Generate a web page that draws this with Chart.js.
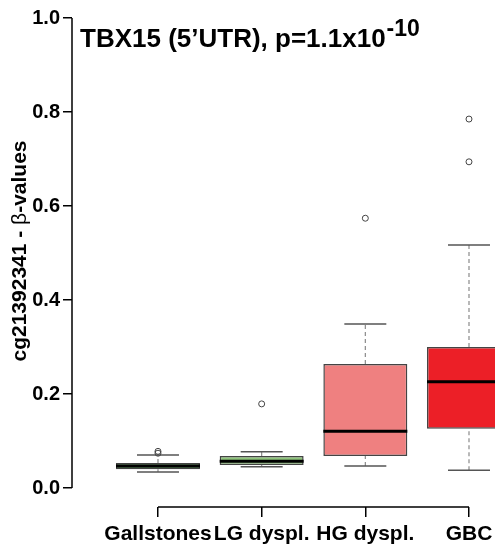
<!DOCTYPE html>
<html>
<head>
<meta charset="utf-8">
<script src="https://cdn.jsdelivr.net/npm/chart.js@4/dist/chart.umd.min.js"></script>
<style>
  html, body { margin: 0; padding: 0; background: #fff; }
  canvas { display: block; }
</style>
</head>
<body>
<canvas id="boxChart" width="495" height="545"></canvas>
<script>
// groups and box statistics (beta values)
const categories = ['Gallstones', 'LG dyspl.', 'HG dyspl.', 'GBC'];
const whiskerLow = [0.034, 0.045, 0.047, 0.038];
const q1 = [0.040, 0.049, 0.068, 0.126];
const medians = [0.047, 0.057, 0.121, 0.226];
const q3 = [0.053, 0.068, 0.264, 0.300];
const whiskerHigh = [0.070, 0.077, 0.349, 0.517];
const outliers = [[0.074, 0.078], [0.179], [0.574], [0.694, 0.785]];
const boxColors = ['#3f7f3c', '#8fc47c', '#ef8080', '#ec1f27'];
const yTicks = [0, 0.2, 0.4, 0.6, 0.8, 1.0];

const titleMain = 'TBX15 (5\u2019UTR), p=1.1x10';
const titleExp = '-10';
const yTitleParts = [['cg21392341 - ', 'bold'], ['\u03b2', 'normal'], ['-values', 'bold']];

const FONT = '"Liberation Sans", Arial, Helvetica, sans-serif';

const boxData = categories.map((c, i) => ({ x: i + 1, y: [q1[i], q3[i]] }));
const outlierData = [];
outliers.forEach((list, i) => list.forEach(v => outlierData.push({ x: i + 1, y: v })));

// whiskers, medians, axis lines and titles
const boxExtras = {
  id: 'boxExtras',
  beforeDatasetsDraw(chart) {
    const ctx = chart.ctx;
    const x = chart.scales.x, y = chart.scales.y;
    const bars = chart.getDatasetMeta(0).data;
    ctx.save();
    categories.forEach((c, i) => {
      const cx = x.getPixelForValue(i + 1);
      const half = bars[i].width / 4;
      ctx.strokeStyle = '#8a8a8a';
      ctx.lineWidth = 1.2;
      ctx.setLineDash([4, 3]);
      ctx.beginPath();
      ctx.moveTo(cx, y.getPixelForValue(whiskerLow[i]));
      ctx.lineTo(cx, y.getPixelForValue(q1[i]));
      ctx.moveTo(cx, y.getPixelForValue(q3[i]));
      ctx.lineTo(cx, y.getPixelForValue(whiskerHigh[i]));
      ctx.stroke();
      ctx.setLineDash([]);
      ctx.strokeStyle = '#555';
      ctx.lineWidth = 1.5;
      ctx.beginPath();
      [whiskerLow[i], whiskerHigh[i]].forEach(v => {
        const py = y.getPixelForValue(v);
        ctx.moveTo(cx - half, py);
        ctx.lineTo(cx + half, py);
      });
      ctx.stroke();
    });
    ctx.restore();
  },
  afterDatasetsDraw(chart) {
    const ctx = chart.ctx;
    const x = chart.scales.x, y = chart.scales.y;
    const bars = chart.getDatasetMeta(0).data;
    const area = chart.chartArea;
    ctx.save();
    ctx.beginPath();
    ctx.rect(area.left, 0, area.right - area.left, chart.height);
    ctx.clip();
    ctx.strokeStyle = '#000';
    ctx.lineWidth = 3;
    ctx.beginPath();
    bars.forEach((bar, i) => {
      const py = y.getPixelForValue(medians[i]);
      ctx.moveTo(bar.x - bar.width / 2, py);
      ctx.lineTo(bar.x + bar.width / 2, py);
    });
    ctx.stroke();
    ctx.restore();

    ctx.save();
    // axis lines (R style: only across the tick range)
    ctx.strokeStyle = '#000';
    ctx.lineWidth = 1.5;
    ctx.beginPath();
    ctx.moveTo(area.left, y.getPixelForValue(yTicks[0]));
    ctx.lineTo(area.left, y.getPixelForValue(yTicks[yTicks.length - 1]));
    ctx.moveTo(x.getPixelForValue(1), area.bottom);
    ctx.lineTo(x.getPixelForValue(categories.length), area.bottom);
    ctx.stroke();

    // main title with superscript exponent
    ctx.fillStyle = '#000';
    ctx.textBaseline = 'alphabetic';
    ctx.textAlign = 'left';
    ctx.font = 'bold 26px ' + FONT;
    ctx.fillText(titleMain, 80, 47);
    const w = ctx.measureText(titleMain).width;
    ctx.font = 'bold 23px ' + FONT;
    ctx.fillText(titleExp, 80 + w + 1, 36);

    // rotated y title, beta in plain weight
    ctx.translate(26, 251);
    ctx.rotate(-Math.PI / 2);
    let total = 0;
    yTitleParts.forEach(([t, wgt]) => {
      ctx.font = wgt + ' 21px ' + FONT;
      total += ctx.measureText(t).width;
    });
    let px = -total / 2;
    yTitleParts.forEach(([t, wgt]) => {
      ctx.font = wgt + ' 21px ' + FONT;
      ctx.fillText(t, px, 0);
      px += ctx.measureText(t).width;
    });
    ctx.restore();
  }
};

new Chart(document.getElementById('boxChart'), {
  type: 'bar',
  data: {
    datasets: [{
      type: 'bar',
      data: boxData,
      backgroundColor: boxColors,
      borderColor: '#444',
      borderWidth: 1.5,
      borderSkipped: false,
      categoryPercentage: 1,
      barPercentage: 0.81
    }, {
      type: 'scatter',
      data: outlierData,
      pointStyle: 'circle',
      pointRadius: 3,
      pointBorderWidth: 1,
      pointBorderColor: '#444',
      pointBackgroundColor: 'rgba(255,255,255,0)'
    }]
  },
  options: {
    responsive: false,
    animation: false,
    layout: { autoPadding: false, padding: { top: 18, right: 0, bottom: 0, left: 0 } },
    plugins: { legend: { display: false }, tooltip: { enabled: false } },
    scales: {
      x: {
        type: 'linear',
        offset: false,
        min: 0.1705,
        max: 4.2508,
        afterBuildTicks: s => { s.ticks = categories.map((c, i) => ({ value: i + 1 })); },
        afterFit: s => { s.height = 38; s.paddingLeft = 0; s.paddingRight = 0; },
        border: { display: false },
        grid: { offset: false, drawOnChartArea: false, drawTicks: true, tickLength: 10, color: '#000', lineWidth: 1.5 },
        ticks: {
          autoSkip: false,
          maxRotation: 0,
          padding: 5,
          color: '#000',
          font: { family: FONT, size: 21, weight: 'bold' },
          callback: v => categories[Math.round(v) - 1]
        }
      },
      y: {
        min: -0.0404,
        max: 1.0,
        afterBuildTicks: s => { s.ticks = yTicks.map(v => ({ value: v })); },
        afterFit: s => { s.width = 72; },
        border: { display: false },
        grid: { drawOnChartArea: false, drawTicks: true, tickLength: 9, color: '#000', lineWidth: 1.5 },
        ticks: {
          padding: 3,
          color: '#000',
          font: { family: FONT, size: 20, weight: 'bold' },
          callback: v => v.toFixed(1)
        }
      }
    }
  },
  plugins: [boxExtras]
});
</script>
</body>
</html>
